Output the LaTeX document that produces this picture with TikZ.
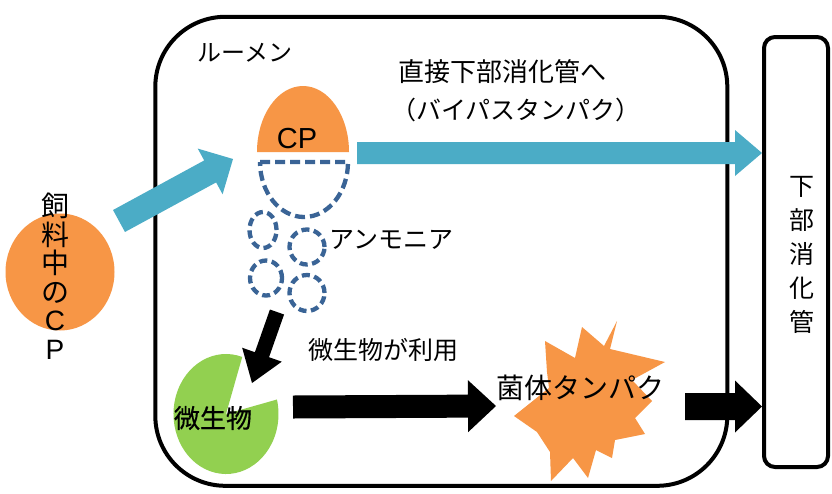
\documentclass[tikz,border=0pt]{standalone}
\usepackage{fontspec}
\setmainfont{Noto Sans CJK JP}
\newfontfamily\semibold[FakeBold=0.6]{Noto Sans CJK JP}
\newfontfamily\latinsans{Liberation Sans}
\usetikzlibrary{calc,shapes.geometric}
\definecolor{cporange}{HTML}{F79646}
\definecolor{byblue}{HTML}{4BACC6}
\definecolor{mgreen}{HTML}{92D050}
\definecolor{dnavy}{HTML}{3A6496}
\newcommand\fatarrow[6]{%
  \coordinate (fa-h) at ($(#3)!#6!(#2)$);
  \fill[#1] ($(#2)!#4!90:(#3)$) -- ($(fa-h)!#4!90:(#3)$) -- ($(fa-h)!#5!90:(#3)$) -- (#3)
    -- ($(fa-h)!#5!-90:(#3)$) -- ($(fa-h)!#4!-90:(#3)$) -- ($(#2)!#4!-90:(#3)$) -- cycle;}
\begin{document}
\begin{tikzpicture}[x=1pt,y=-1pt,
  lbl/.style={inner sep=0pt, text=black},
  ammo/.style={draw=dnavy, line width=4.3pt, dash pattern=on 8pt off 4.5pt, ellipse, inner sep=0pt}]
\useasboundingbox (0,0) rectangle (832,493);
\fill[white] (0,0) rectangle (832,493);

% rumen box and lower tract
\node[draw, line width=4pt, rounded corners=70pt, minimum width=572pt, minimum height=469pt, inner sep=0pt] (rumen) at (441.3,251.3) {};
\node[draw, line width=4pt, rounded corners=11pt, minimum width=64pt, minimum height=430pt, inner sep=0pt] (lower) at (796,252) {};
\node[lbl, font=\fontsize{24}{24}\selectfont] (rumenlbl) at (245,53) {ルーメン};
\node[lbl, font=\fontsize{25}{34}\selectfont, align=center] (lowerlbl) at (802,255) {下\\部\\消\\化\\管};

% feed CP
\node[ellipse, fill=cporange, minimum width=109pt, minimum height=117pt, inner sep=0pt] (feed) at (60,272) {};
\node[lbl, font=\fontsize{28}{28.5}\selectfont, align=center] (feedlbl) at (55,276) {飼\\料\\中\\の\\{\latinsans C}\\{\latinsans P}};

% CP half disc
\fill[cporange] (257,152) arc[start angle=180, end angle=360, x radius=46, y radius=66] -- cycle;
\node[lbl, font=\latinsans\fontsize{29}{29}\selectfont] (cp) at (297,139) {CP};
% degraded part
\draw[draw=dnavy, line width=4.3pt, dash pattern=on 10pt off 5pt] (260,162) -- (348,162) arc[start angle=0, end angle=180, x radius=44, y radius=55] -- cycle;
\coordinate (deg) at (304,190);

% ammonia circles
\node[ammo, minimum width=27pt, minimum height=36pt] (n1) at (263,230) {};
\node[ammo, minimum width=35pt, minimum height=35pt] (n2) at (307,247) {};
\node[ammo, minimum width=32pt, minimum height=35pt] (n3) at (266,278) {};
\node[ammo, minimum width=35pt, minimum height=36pt] (n4) at (307,293) {};
\node[lbl, font=\fontsize{25}{25}\selectfont] (ammolbl) at (391,240) {アンモニア};

% microbes (pacman)
\fill[mgreen] (226,414) -- ++(-72:52.5 and 60) arc[start angle=-72, end angle=-374, x radius=52.5, y radius=60] -- cycle;
\coordinate (mic) at (226,414);
\node[lbl, font=\semibold\fontsize{26}{26}\selectfont] (miclbl) at (213,418) {微生物};
\node[lbl, font=\fontsize{25}{25}\selectfont] (uselbl) at (383,350) {微生物が利用};

% starburst
\fill[cporange] (617,321) -- (610,349) -- (665,362) -- (632,380) -- (652,401) -- (635,418) -- (645,434)
  -- (615,440) -- (612,458) -- (596,450) -- (588,478) -- (573,458) -- (551,481) -- (550,452)
  -- (537,432) -- (514,416) -- (549,388) -- (547,372) -- (545,341) -- (575,358) -- (582,327)
  -- (604,346) -- cycle;
\coordinate (burst) at (590,405);
\node[lbl, font=\fontsize{28}{28}\selectfont] (bactlbl) at (580,388) {菌体タンパク};

% bypass text
\node[lbl, font=\fontsize{26}{26}\selectfont] (bp1) at (502,72) {直接下部消化管へ};
\node[lbl, font=\fontsize{25}{25}\selectfont] (bp2) at (516,110) {（バイパスタンパク）};

% arrow end points
\coordinate (a1s) at (119,221);  \coordinate (a1e) at (233,159);
\coordinate (a2s) at (357,153);  \coordinate (a2e) at (762,153);
\coordinate (a3s) at (277,312);  \coordinate (a3e) at (252,383);
\coordinate (a4s) at (293,407);  \coordinate (a4e) at (496,406);
\coordinate (a5s) at (685,406.5);\coordinate (a5e) at (762,406.5);

\fatarrow{byblue}{a1s}{a1e}{12.5pt}{26pt}{26pt}
\fatarrow{byblue}{a2s}{a2e}{11pt}{23pt}{27pt}
\fatarrow{black}{a3s}{a3e}{7.5pt}{21pt}{30pt}
\fatarrow{black}{a4s}{a4e}{11.5pt}{26pt}{28pt}
\fatarrow{black}{a5s}{a5e}{13.5pt}{26pt}{27pt}
\end{tikzpicture}
\end{document}
